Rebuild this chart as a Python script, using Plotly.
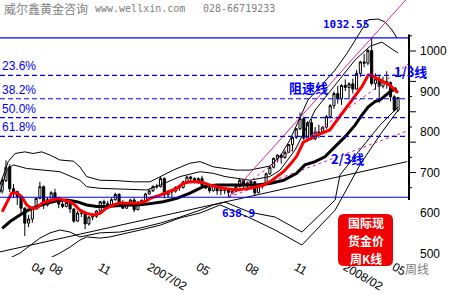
import plotly.graph_objects as go

# ---------------- data (weekly candles, May 2006 - May 2008) ----------------
weeks = [f"w{i}" for i in range(106)]
opens = [654,680,714,660,653,640,612,575,585,613,636,665,620,633,650,635,622,616,626,610,
         580,600,599,573,590,592,605,628,623,620,633,646,626,612,621,632,608,627,631,647,
         655,666,665,685,645,652,654,663,663,677,689,685,679,685,668,662,655,669,655,657,
         656,651,654,665,681,669,674,677,650,666,673,697,713,735,743,737,750,769,787,808,
         833,785,823,783,800,798,812,838,865,895,882,915,910,919,906,945,973,970,1001,920,
         931,913,925,922,887,854]
highs = [686,730,720,672,655,645,614,595,616,638,677,668,640,654,660,640,628,630,630,612,
         605,608,600,592,598,607,630,633,630,637,650,649,632,624,635,638,629,634,650,658,
         668,672,690,688,656,658,666,668,680,692,692,688,688,692,672,667,670,672,660,662,
         658,656,667,684,683,678,680,679,668,674,700,716,737,745,745,755,770,790,810,848,
         838,827,832,812,818,814,842,869,900,914,918,930,923,932,953,976,993,1005,1032.55,945,
         940,937,950,925,891,886]
lows = [648,676,652,638,620,601,543,565,576,610,634,610,616,630,632,612,612,614,600,576,
        578,590,560,569,582,588,600,610,613,617,630,622,610,610,620,602,607,620,630,645,
        652,660,663,636,638,640,650,655,660,676,673,673,672,663,659,650,653,645,644,647,
        638.9,646,652,663,660,662,662,642,649,660,670,694,710,725,722,734,748,752,783,805,
        780,785,780,780,785,795,808,835,857,870,867,901,881,895,905,936,960,965,915,904,
        872,908,907,876,851,850]
closes = [680,713,660,653,640,612,575,585,613,636,665,620,633,650,635,622,616,626,610,580,
          600,599,573,590,592,605,628,623,620,633,646,626,612,621,632,608,627,631,647,655,
          666,665,685,645,652,654,663,663,677,689,685,679,685,668,662,655,669,655,657,656,
          651,654,665,681,669,674,677,650,666,673,697,713,735,743,737,750,769,787,808,833,
          785,823,783,800,798,812,838,865,895,882,915,910,919,906,945,973,970,1001,920,931,
          913,925,922,887,854,885]

# moving averages / bands (week index, price)
red_ma_x = [0,2.5,3.8,5.2,6.5,7.8,9.2,10.5,11.8,13.6,14.9,16.2,18,19.3,20.6,22.4,24.2,25.9,27.7,29.5,
            31.2,33,34.8,36.6,38.3,39.2,41.9,44.5,46.3,48,49.8,51.6,53.3,55.1,56.9,58.6,60.4,62.2,64,65.7,
            67.5,69.3,71,72.8,74.6,76.3,78.1,79.9,82.5,84.7,86.9,90.1,92.7,95.4,97.1,98,99.3,101,102.8,104.1,105]
red_ma_y = [603,649,650,640,620,612,612,624,628,632,636,632,628,620,607,599,595,599,612,620,
            625,624,624,625,630,636,644,653,661,673,677,677,675,669,665,661,659,657,659,661,
            665,669,677,690,702,719,740,775,788,797,805,846,879,912,941,941,933,924,916,904,897]
blk_ma_x = [0,2.1,4.7,6.9,9.2,11.8,14.5,17.1,19.8,22.4,25.1,27.7,30.4,33,35.7,38.3,42.7,46.3,49.8,53.3,
            56.9,60.4,64,67.5,71,74.6,78.1,80.3,83,85.6,88.3,90.9,93.6,95.4,97.1,98.9,100.2,102.9,104.6]
blk_ma_y = [562,579,595,607,616,624,630,632,628,620,616,616,618,620,620,622,628,636,649,665,
            669,669,669,669,673,681,698,719,727,739,764,788,817,842,862,875,879,900,908]
up2_x = [-0.6,1.6,3.4,6,8.2,10.5,12.7,15.3,18.9,20.6,22.4,25.9,30.4,34.8,39.2,41.9,45.4,49.8,52.5,56,
         59.1,62,65.7,71,73.7,76.3,81.1,88.3,91.5,94.9,97,99.7,101.5,103.4,104.7]
up2_y = [669,727,747,751,747,751,743,731,728,714,690,681,680,677,677,690,706,723,727,714,
         710,706,706,716,740,780,879,953,995,1044,1077,1079,1072,1052,1032]
up1_x = [-0.6,1.2,2.9,6.5,10.9,15.3,20.6,22.4,25.9,34.8,38.3,41.9,47.2,52.5,56,59.1,65.7,71,73.7,77.7,
         83,88.3,93.6,97.6,100.7,105]
up1_y = [650,706,719,710,706,702,681,665,661,657,657,669,690,702,698,690,681,690,706,756,
         854,916,978,1012,1022,995]
lo1_x = [-0.6,2.1,4.7,7.4,10,12.7,15.3,18,20.6,23.3,25.9,31.2,36.6,41.9,47.2,52.5,56,59.1,65.7,72.4,
         79.5,88.3,89.6,94.9,100.2,105]
lo1_y = [484,489,501,521,538,551,558,553,541,546,551,553,563,575,590,607,620,627,602,590,
         553,632,694,756,817,862]
lo2_x = [-0.6,2.1,4.7,7.4,10,12.7,15.3,18,20.6,22.4,25.9,28.6,31.2,36.6,41.9,47.2,52.5,57.8,65.7,72.4,
         79.5,88.3,94.9,100.2,105]
lo2_y = [459,437,447,459,472,489,501,516,533,541,538,541,546,558,570,588,600,620,588,558,
         521,607,719,793,854]
trend_x = [-0.6, 107.4]
trend_y = [504, 727]

swing_low, swing_high = 638.9, 1032.55
low_week, high_week = 60, 98
fib_ratios = [0.236, 0.382, 0.5, 0.618]
fib_labels = ["23.6%", "38.2%", "50.0%", "61.8%"]
speed_fracs = [1.0, 2/3, 1/3]

x_ticks = [8.3, 13, 26, 39, 52, 65, 78, 91, 104]
x_ticktext = ["04", "08", "11", "2007/02", "05", "08", "11", "2008/02", "05"]
y_ticks = [500, 600, 700, 800, 900, 1000]
axis_minor = [1037.5, 1000, 962.5, 925, 887.5, 850, 812.5, 775, 737.5, 700, 662.5]

PLOT_W, PLOT_H = 409, 257
X_RANGE = [-0.58, 107.9]
Y_RANGE = [491.4, 1126]

BLUE = "#0000FF"
PINK = "#E0209A"

fig = go.Figure()

for xs, ys in [(up2_x, up2_y), (up1_x, up1_y), (lo1_x, lo1_y), (lo2_x, lo2_y), (trend_x, trend_y)]:
    fig.add_trace(go.Scatter(x=xs, y=ys, mode="lines", line=dict(color="black", width=1),
                             hoverinfo="skip", showlegend=False))

# speed resistance lines
for f in speed_fracs:
    target = swing_low + f * (swing_high - swing_low)
    slope = (target - swing_low) / (high_week - low_week)
    xe = X_RANGE[1]
    fig.add_trace(go.Scatter(x=[low_week, xe], y=[swing_low, swing_low + slope * (xe - low_week)],
                             mode="lines",
                             line=dict(color=PINK, width=1, dash="solid" if f == 1.0 else "3px,3px"),
                             hoverinfo="skip", showlegend=False))

fig.add_trace(go.Candlestick(
    x=list(range(len(opens))), open=opens, high=highs, low=lows, close=closes,
    increasing=dict(line=dict(color="black", width=1), fillcolor="white"),
    decreasing=dict(line=dict(color="black", width=1), fillcolor="black"),
    whiskerwidth=0, showlegend=False, text=weeks))

fig.add_trace(go.Scatter(x=blk_ma_x, y=blk_ma_y, mode="lines", line=dict(color="black", width=3),
                         hoverinfo="skip", showlegend=False))
fig.add_trace(go.Scatter(x=red_ma_x, y=red_ma_y, mode="lines", line=dict(color="#FF0000", width=3),
                         hoverinfo="skip", showlegend=False))

shapes = []
for lv in [swing_high, swing_low]:
    shapes.append(dict(type="line", xref="paper", x0=0, x1=1, yref="y", y0=lv, y1=lv,
                       line=dict(color=BLUE, width=1.2)))
annotations = []
for r, lab in zip(fib_ratios, fib_labels):
    lv = swing_high - r * (swing_high - swing_low)
    shapes.append(dict(type="line", xref="paper", x0=0, x1=1, yref="y", y0=lv, y1=lv,
                       line=dict(color=BLUE, width=1.2, dash="5px,3px")))
    annotations.append(dict(x=0, xref="paper", xanchor="left", y=lv, yref="y", yanchor="bottom",
                            yshift=0, text=lab, showarrow=False,
                            font=dict(family="Liberation Sans, Arial", size=12, color=BLUE)))
shapes.append(dict(type="line", xref="paper", x0=1, x1=1, yref="y", y0=1041, y1=632,
                   line=dict(color="black", width=2)))
for v in axis_minor:
    ln = 7 if v in (1000, 925, 850, 775, 700) else 3
    shapes.append(dict(type="line", xref="paper", x0=1, x1=1 + ln / PLOT_W, yref="y", y0=v, y1=v,
                       line=dict(color="black", width=1)))

def px(xp, yp):
    return xp / PLOT_W, 1 - yp / PLOT_H

sx0, sy0 = px(338, 214)
sx1, sy1 = px(393, 266)
rx, ry = 6 / PLOT_W, 6 / PLOT_H
shapes.append(dict(type="path", xref="paper", yref="paper",
                   path=(f"M {sx0+rx},{sy0} L {sx1-rx},{sy0} Q {sx1},{sy0} {sx1},{sy0-ry} "
                         f"L {sx1},{sy1+ry} Q {sx1},{sy1} {sx1-rx},{sy1} L {sx0+rx},{sy1} "
                         f"Q {sx0},{sy1} {sx0},{sy1+ry} L {sx0},{sy0-ry} Q {sx0},{sy0} {sx0+rx},{sy0} Z"),
                   fillcolor="#F00000", line=dict(width=0)))

def add_text(xp, yp, text, size, color, family, bold=False, xanchor="center", bg=None):
    x, y = px(xp, yp)
    annotations.append(dict(x=x, y=y, xref="paper", yref="paper", xanchor=xanchor, yanchor="middle",
                            text=f"<b>{text}</b>" if bold else text, showarrow=False,
                            bgcolor=bg, borderpad=0,
                            font=dict(family=family, size=size, color=color)))

CJK = "Noto Sans CJK SC"
MONO = "DejaVu Sans Mono"
add_text(3, 9, "威尔鑫黄金咨询", 12, "#808080", CJK, xanchor="left")
add_text(94, 9, "www.wellxin.com", 10, "#808080", MONO, xanchor="left")
add_text(202, 9, "028-66719233", 10, "#808080", MONO, xanchor="left")
add_text(346, 24, "1032.55", 11, BLUE, MONO, bold=True)
add_text(238, 213, "638.9", 11, BLUE, MONO, bold=True)
add_text(308, 87, "阻速线", 13, BLUE, CJK, bold=True)
add_text(411, 71, "1/3线", 13, BLUE, CJK, bold=True)
add_text(347, 158, "2/3线", 13, BLUE, CJK, bold=True)
add_text(366, 222, "国际现", 12, "white", CJK, bold=True)
add_text(366, 240, "货金价", 12, "white", CJK, bold=True)
add_text(366, 258, "周K线", 12, "white", CJK, bold=True)
add_text(404, 268, "周线", 12, "#808080", CJK, xanchor="left", bg="white")

fig.update_layout(
    width=450, height=300, margin=dict(l=0, r=450 - PLOT_W, t=0, b=300 - PLOT_H),
    paper_bgcolor="white", plot_bgcolor="white",
    boxgap=0.2,
    shapes=shapes, annotations=annotations, showlegend=False,
    xaxis=dict(range=X_RANGE, rangeslider=dict(visible=False), showgrid=False, zeroline=False,
               showline=False, ticks="", tickvals=x_ticks, ticktext=x_ticktext,
               ticklabelposition="outside right",
               tickfont=dict(family="Liberation Sans, Arial", size=12, color="black")),
    yaxis=dict(range=Y_RANGE, side="right", showgrid=False, zeroline=False, showline=False,
               ticks="", tickvals=y_ticks, ticklabelstandoff=10,
               tickfont=dict(family="Liberation Sans, Arial", size=12, color="black")),
)

fig.write_html("out.html")
